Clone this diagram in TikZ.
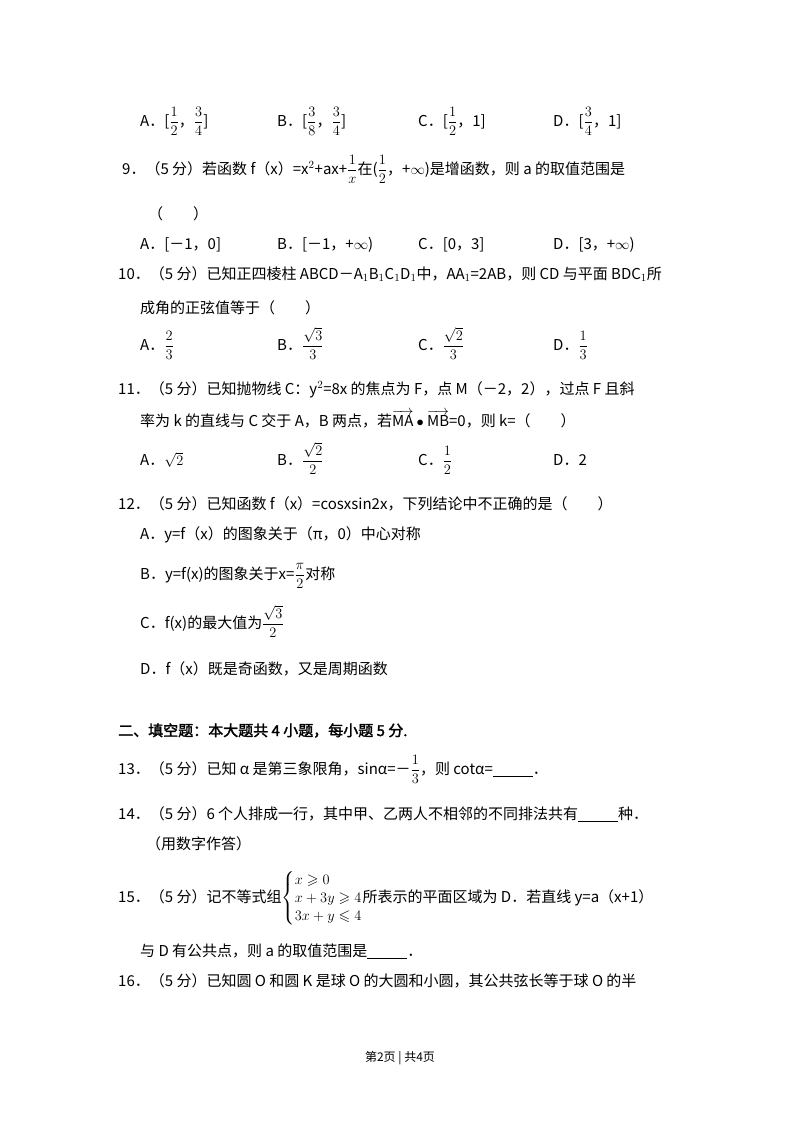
\documentclass[tikz,border=0pt]{standalone}
\usepackage{amsmath,amssymb}
\usepackage{fontspec}
\setmainfont{Noto Sans CJK SC}
\newfontfamily\cjkb[FakeBold=2]{Noto Sans CJK SC}
\begin{document}
\begin{tikzpicture}[x=1pt,y=-1pt,
  t/.style={anchor=base west,inner sep=0pt,font=\fontsize{15}{18}\selectfont}]
\useasboundingbox[fill=white] (0,0) rectangle (800,1133);
\newcommand\ul{\underline{\hspace{40pt}}}
% options 8
\node[t] (a8) at (140,126) {A．[$\dfrac12$，$\dfrac34$]};
\node[t] (b8) at (277,126) {B．[$\dfrac38$，$\dfrac34$]};
\node[t] (c8) at (418,126) {C．[$\dfrac12$，1]};
\node[t] (d8) at (553,126) {D．[$\dfrac34$，1]};
% 9
\node[t] (q9) at (122,174) {9．（5 分）若函数 f（x）=x$^2$+ax+$\dfrac{1}{x}$在($\dfrac12$，+$\infty$)是增函数，则 a 的取值范围是};
\node[t] (q9b) at (148,219) {（　　）};
\node[t] (a9) at (140,249) {A．[－1，0]};
\node[t] (b9) at (277,249) {B．[－1，+$\infty$)};
\node[t] (c9) at (418,249) {C．[0，3]};
\node[t] (d9) at (553,249) {D．[3，+$\infty$)};
% 10
\node[t] (q10) at (118,279) {10．（5 分）已知正四棱柱 ABCD－A$_1$B$_1$C$_1$D$_1$中，AA$_1$=2AB，则 CD 与平面 BDC$_1$所};
\node[t] (q10b) at (140,313) {成角的正弦值等于（　　）};
\node[t] (a10) at (140,350) {A．$\dfrac23$};
\node[t] (b10) at (277,350) {B．$\dfrac{\sqrt3}{3}$};
\node[t] (c10) at (418,350) {C．$\dfrac{\sqrt2}{3}$};
\node[t] (d10) at (553,350) {D．$\dfrac13$};
% 11
\node[t] (q11) at (118,394) {11．（5 分）已知抛物线 C：y$^2$=8x 的焦点为 F，点 M（－2，2），过点 F 且斜};
\node[t] (q11b) at (140,426) {率为 k 的直线与 C 交于 A，B 两点，若$\overrightarrow{\mathrm{MA}}\bullet\overrightarrow{\mathrm{MB}}$=0，则 k=（　　）};
\node[t] (a11) at (140,465) {A．$\sqrt2$};
\node[t] (b11) at (277,465) {B．$\dfrac{\sqrt2}{2}$};
\node[t] (c11) at (418,465) {C．$\dfrac12$};
\node[t] (d11) at (553,465) {D．2};
% 12
\node[t] (q12) at (118,509) {12．（5 分）已知函数 f（x）=cosxsin2x，下列结论中不正确的是（　　）};
\node[t] (a12) at (140,539) {A．y=f（x）的图象关于（π，0）中心对称};
\node[t] (b12) at (140,579) {B．y=f(x)的图象关于x=$\dfrac{\pi}{2}$对称};
\node[t] (c12) at (140,628) {C．f(x)的最大值为$\dfrac{\sqrt3}{2}$};
\node[t] (d12) at (140,674) {D．f（x）既是奇函数，又是周期函数};
% section
\node[t,font=\fontsize{15}{18}\cjkb] (sec) at (118,736) {二、填空题：本大题共 4 小题，每小题 5 分.};
\node[t] (q13) at (118,774) {13．（5 分）已知 α 是第三象限角，sinα=－$\dfrac13$，则 cotα=\ul．};
\node[t] (q14) at (118,819) {14．（5 分）6 个人排成一行，其中甲、乙两人不相邻的不同排法共有\ul 种．};
\node[t] (q14b) at (146,849) {（用数字作答）};
\node[t] (q15) at (118,902) {15．（5 分）记不等式组$\left\{\begin{array}{@{}l@{}}x\geqslant0\\x+3y\geqslant4\\3x+y\leqslant4\end{array}\right.$所表示的平面区域为 D．若直线 y=a（x+1）};
\node[t] (q15b) at (140,956) {与 D 有公共点，则 a 的取值范围是\ul．};
\node[t] (q16) at (118,986) {16．（5 分）已知圆 O 和圆 K 是球 O 的大圆和小圆，其公共弦长等于球 O 的半};
\node[anchor=base,inner sep=0pt,font=\fontsize{12}{14}\selectfont] (pg) at (400,1061) {第2页 | 共4页};
\end{tikzpicture}
\end{document}
